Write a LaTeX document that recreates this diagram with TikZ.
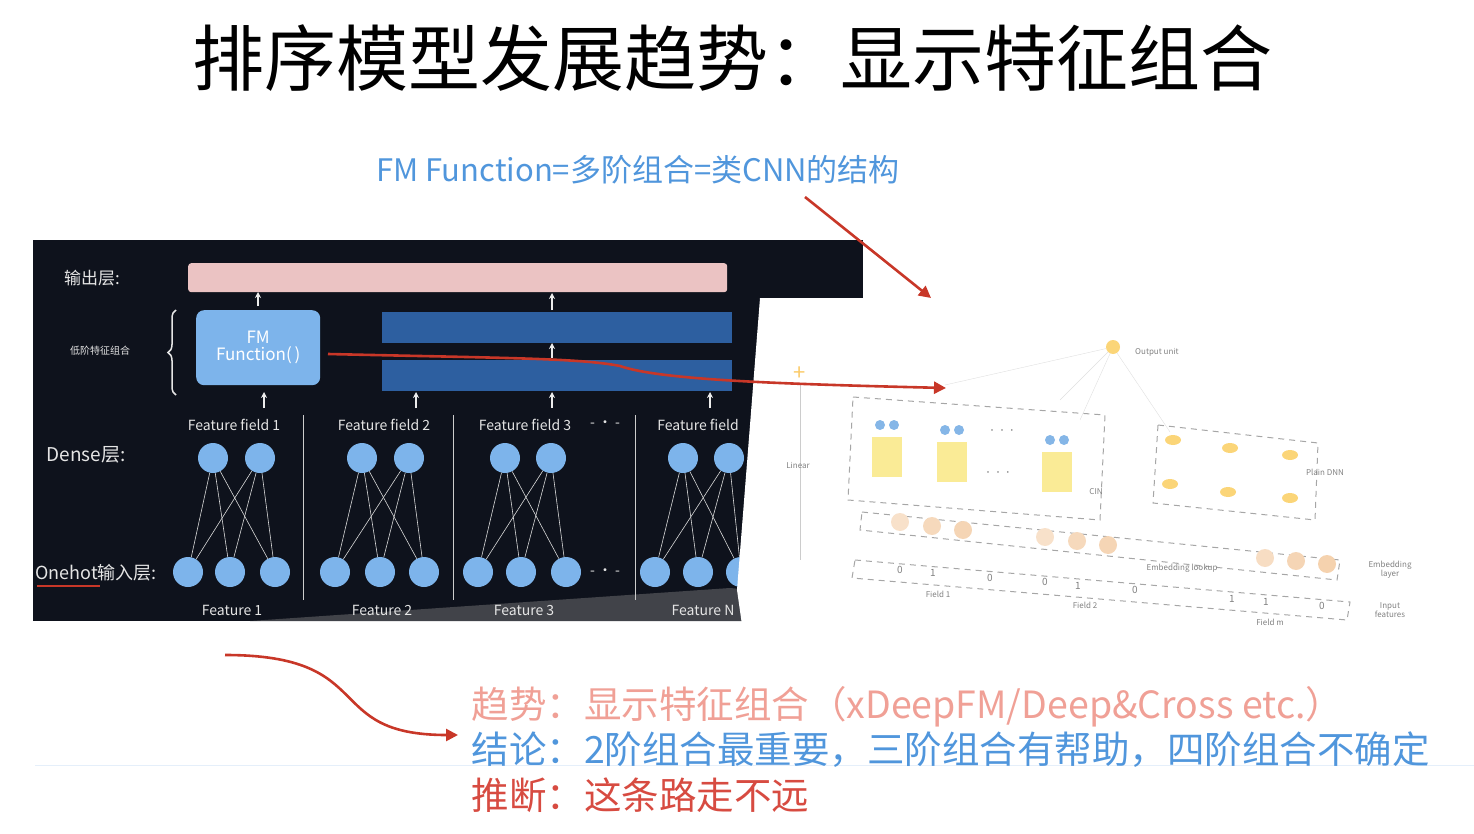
\documentclass[tikz,border=0pt]{standalone}
\usepackage{fontspec}
\setmainfont{Noto Sans CJK SC}
\usetikzlibrary{arrows.meta,decorations.pathreplacing,calc}
\definecolor{panel}{RGB}{14,18,28}
\definecolor{lblue}{RGB}{125,180,235}
\definecolor{dblue}{RGB}{45,95,160}
\definecolor{pinkbar}{RGB}{235,195,195}
\definecolor{redc}{RGB}{200,55,40}
\definecolor{subblue}{RGB}{80,150,220}
\definecolor{salmon}{RGB}{240,160,150}
\definecolor{infred}{RGB}{215,75,65}
\definecolor{ylw}{RGB}{250,235,150}
\definecolor{orng}{RGB}{240,190,140}
\newcommand{\fs}[1]{\fontsize{#1}{#1}\selectfont}
\begin{document}
\begin{tikzpicture}[x=1pt,y=-1pt,
  lab/.style={text=white!80!gray,inner sep=0pt,font=\fs{14}},
  dcirc/.style={circle,fill=lblue,minimum size=30pt,inner sep=0pt},
  upar/.style={-{Stealth[length=6pt,width=6pt]},white!85!gray,line width=1.8pt},
  conn/.style={white!70!gray,line width=0.6pt},
  tiny/.style={text=gray,inner sep=0pt,font=\fs{8}},
  dsh/.style={gray!70,dashed,line width=1pt,dash pattern=on 6pt off 5pt},
  redarrow/.style={redc,line width=2.6pt,-{Triangle[length=12pt,width=12pt]}}]
\useasboundingbox (0,0) rectangle (1474,834);
% title
\node (title) at (732,58) {\fs{72}排序模型发展趋势：显示特征组合};
\node[text=subblue] (sub) at (638,170) {\fs{31}FM Function=多阶组合=类CNN的结构};
% dark panel
\fill[panel] (33,240) rectangle (863,621);
\fill[gray!45!panel] (250,621) -- (730,588) -- (863,600) -- (863,621) -- cycle;
% left panel content
\node[lab,font=\fs{17}] (outl) at (92,278) {输出层:};
\node[rounded corners=3pt,fill=pinkbar,minimum width=539pt,minimum height=29pt,anchor=north west] (outbar) at (188,263) {};
\node[lab,font=\fs{10}] (low) at (100,351) {低阶特征组合};
\draw[white!80!gray,line width=1.5pt,decorate,decoration={brace,amplitude=8pt}] (176,395) -- (176,310);
\node[rounded corners=8pt,fill=lblue,minimum width=124pt,minimum height=75pt,anchor=north west,text=white,align=center,font=\fs{17}] (fm) at (196,310) {FM\\Function(\,)};
\node[fill=dblue,minimum width=350pt,minimum height=31pt,anchor=north west] (b1) at (382,312) {};
\node[fill=dblue,minimum width=350pt,minimum height=31pt,anchor=north west] (b2) at (382,360) {};
\draw[upar] (258,306) -- (258,292);
\draw[upar] (552,310) -- (552,293);
\draw[upar] (552,358) -- (552,343);
\foreach \x in {264,416,552,710}{\draw[upar] (\x,408) -- (\x,392);}
\foreach \x/\t in {234/Feature field 1,384/Feature field 2,525/Feature field 3,698/Feature field}{\node[lab] at (\x,425) {\t};}
\node[lab] (dots1) at (605,424) {- · -};
\node[lab] (dots2) at (605,572) {- · -};
\node[lab,font=\fs{19}] (dense) at (86,455) {Dense层:};
\node[lab,font=\fs{18}] (onehot) at (96,573) {Onehot输入层:};
\draw[redc,line width=1.2pt] (37,586) -- (100,586);
\foreach \x in {303,453,635}{\draw[white!60!gray,line width=0.8pt] (\x,415) -- (\x,600);}
\foreach \a/\b/\p/\q/\r [count=\i] in {213/260/188/230/275,362/409/335/380/424,505/551/478/521/566,683/729/655/698/741}{
  \node[dcirc] (d\i a) at (\a,458) {};
  \node[dcirc] (d\i b) at (\b,458) {};
  \node[dcirc] (o\i a) at (\p,572) {};
  \node[dcirc] (o\i b) at (\q,572) {};
  \node[dcirc] (o\i c) at (\r,572) {};
  \foreach \o in {a,b,c}{\foreach \d in {a,b}{\draw[conn] (o\i\o) -- (d\i\d);}}
}
\foreach \x/\t in {232/Feature 1,382/Feature 2,524/Feature 3,703/Feature N}{\node[lab] at (\x,610) {\t};}
% white sheet
\fill[white] (760,298) -- (866,298) -- (866,625) -- (742,625) -- (737,590) -- cycle;
% right diagram
\node[circle,fill=ylw!80!orange,minimum size=14pt,inner sep=0pt] (ou) at (1113,347) {};
\node[tiny,anchor=west] (out) at (1135,352) {Output unit};
\node[text=ylw!70!orange,font=\fs{22}] (plus) at (800,374) {+};
\draw[gray!40] (plus) -- (800,560);
\node[tiny] (lin) at (798,465) {Linear};
\draw[dsh] (853,397) -- (1105,415) -- (1100,520) -- (848,500) -- cycle;
\node[tiny] (cin) at (1096,492) {CIN};
\draw[dsh] (1158,425) -- (1318,443) -- (1315,520) -- (1153,503) -- cycle;
\node[tiny] (dnn) at (1325,472) {Plain DNN};
\foreach \x/\y in {880/425,945/430,1050/440}{
  \fill[ylw] (\x-8,\y+12) rectangle (\x+22,\y+52);
  \fill[subblue!70] (\x,\y) circle (5pt) (\x+14,\y) circle (5pt);
}
\node[tiny] at (1002,432) {· · ·};
\node[tiny] at (998,474) {· · ·};
\foreach \x/\y in {1173/440,1230/448,1290/455,1170/484,1228/492,1290/498}{\fill[ylw!80!orange] (\x,\y) ellipse (8pt and 5pt);}
\foreach \e in {(1060,400),(1080,420),(1170,432),(945,385)}{\draw[gray!25] (ou) -- \e;}
\draw[dsh] (862,512) -- (1340,560) -- (1337,580) -- (860,530) -- cycle;
\foreach \x/\y/\c in {900/522/10,932/526/30,963/530/40,1045/537/10,1077/541/30,1108/545/40,1265/558/20,1296/561/40,1327/564/50}{\fill[orng!\c!white!60!orng] (\x,\y) circle (9pt);}
\node[tiny,align=center] at (1390,570) {Embedding\\layer};
\node[tiny] at (1182,568) {Embedding lookup};
\draw[dsh] (855,560) -- (1350,602) -- (1347,620) -- (852,578) -- cycle;
\foreach \x/\y/\t in {900/570/0,933/573/1,990/578/0,1045/582/0,1078/586/1,1135/590/0,1232/599/1,1266/602/1,1322/606/0}{\node[tiny,font=\fs{10}] at (\x,\y) {\t};}
\node[tiny] at (938,594) {Field 1};
\node[tiny] at (1085,605) {Field 2};
\node[tiny] at (1270,622) {Field m};
\node[tiny,align=center] at (1390,610) {Input\\features};
% red arrows
\coordinate (fmr) at (328,354);
\coordinate (tgt) at (946,388);
\draw[redarrow] (fmr) .. controls (500,358) and (580,358) .. (620,366) .. controls (660,380) and (780,384) .. (tgt);
\coordinate (s1) at (805,197);
\coordinate (t1) at (931,298);
\draw[redarrow] (s1) -- (t1);
\coordinate (s2) at (225,655);
\coordinate (t2) at (458,735);
\draw[redarrow] (s2) .. controls (380,655) and (320,735) .. (t2);
% bottom text
\draw[subblue!15,line width=1pt] (35,765) -- (1474,765);
\node[anchor=west,text=salmon,font=\fs{37.5}] (l1) at (468,707) {趋势：显示特征组合（xDeepFM/Deep\&Cross etc.）};
\node[anchor=west,text=subblue,font=\fs{37.5}] (l2) at (468,750) {结论：2阶组合最重要，三阶组合有帮助，四阶组合不确定};
\node[anchor=west,text=infred,font=\fs{37.5}] (l3) at (468,795) {推断：这条路走不远};
\end{tikzpicture}
\end{document}
